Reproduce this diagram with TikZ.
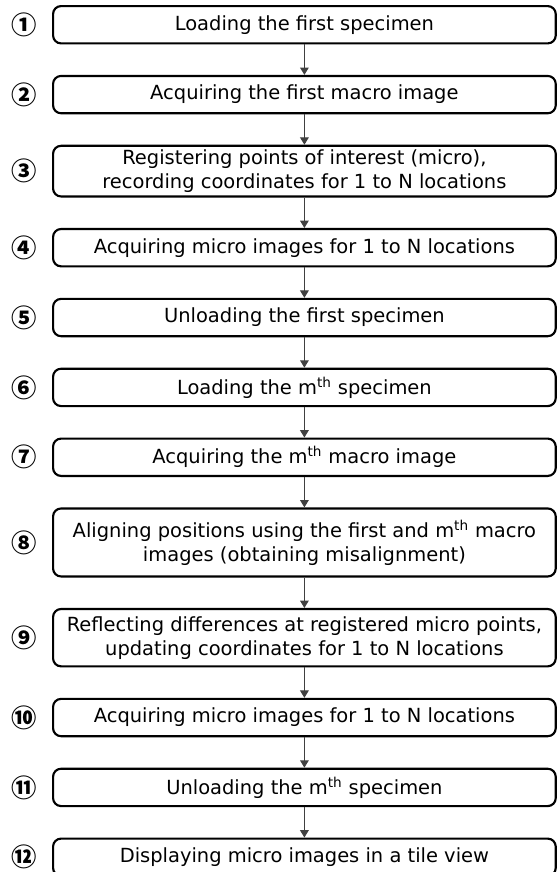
\documentclass[tikz,border=0pt]{standalone}
\usepackage{fontspec}
\setmainfont{DejaVu Sans}
\newfontfamily\numfont{Noto Sans CJK JP}
\usetikzlibrary{arrows.meta, positioning}

\begin{document}
\begin{tikzpicture}[
        x=1pt, y=1pt,
        node distance=22.8pt,
        stepbox/.style={draw, line width=1.6pt, rounded corners=6pt, align=center, minimum width=377pt, minimum height=28pt, inner sep=2pt, font=\fontsize{14.6}{18}\selectfont},
        num/.style={inner sep=0pt, font=\numfont\bfseries\fontsize{19}{19}\selectfont},
        arrow/.style={-{Triangle[length=5.5pt, width=6.5pt]}, line width=0.75pt, black!75}
        ]
        \useasboundingbox (0,0) rectangle (418.5,-654);

        \node (s1) [stepbox, anchor=north west] at (39,-3.75) {Loading the first specimen};
        \node (s2) [stepbox, below=of s1] {Acquiring the first macro image};
        \node (s3) [stepbox, below=of s2, minimum height=38pt] {Registering points of interest (micro),\\recording coordinates for 1 to N locations};
        \node (s4) [stepbox, below=of s3] {Acquiring micro images for 1 to N locations};
        \node (s5) [stepbox, below=of s4] {Unloading the first specimen};
        \node (s6) [stepbox, below=of s5] {Loading the m\textsuperscript{th} specimen};
        \node (s7) [stepbox, below=of s6] {Acquiring the m\textsuperscript{th} macro image};
        \node (s8) [stepbox, below=of s7, minimum height=51pt] {Aligning positions using the first and m\textsuperscript{th} macro\\images (obtaining misalignment)};
        \node (s9) [stepbox, below=of s8, minimum height=43pt] {Reflecting differences at registered micro points,\\updating coordinates for 1 to N locations};
        \node (s10) [stepbox, below=of s9] {Acquiring micro images for 1 to N locations};
        \node (s11) [stepbox, below=of s10] {Unloading the m\textsuperscript{th} specimen};
        \node (s12) [stepbox, below=of s11] {Displaying micro images in a tile view};

        % step numbers
        \node (n1) [num, left=11pt of s1] {①};
        \node (n2) [num, left=11pt of s2] {②};
        \node (n3) [num, left=11pt of s3] {③};
        \node (n4) [num, left=11pt of s4] {④};
        \node (n5) [num, left=11pt of s5] {⑤};
        \node (n6) [num, left=11pt of s6] {⑥};
        \node (n7) [num, left=11pt of s7] {⑦};
        \node (n8) [num, left=11pt of s8] {⑧};
        \node (n9) [num, left=11pt of s9] {⑨};
        \node (n10) [num, left=11pt of s10] {⑩};
        \node (n11) [num, left=11pt of s11] {⑪};
        \node (n12) [num, left=11pt of s12] {⑫};

        \draw[arrow] (s1) -- (s2);
        \draw[arrow] (s2) -- (s3);
        \draw[arrow] (s3) -- (s4);
        \draw[arrow] (s4) -- (s5);
        \draw[arrow] (s5) -- (s6);
        \draw[arrow] (s6) -- (s7);
        \draw[arrow] (s7) -- (s8);
        \draw[arrow] (s8) -- (s9);
        \draw[arrow] (s9) -- (s10);
        \draw[arrow] (s10) -- (s11);
        \draw[arrow] (s11) -- (s12);
    \end{tikzpicture}
\end{document}
